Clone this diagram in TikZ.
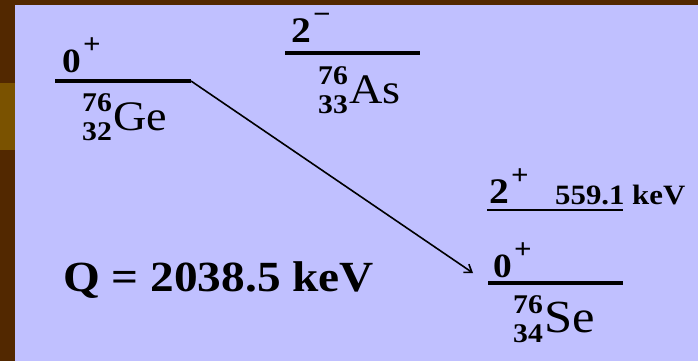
\documentclass[tikz,border=0pt]{standalone}
\usepackage{fontspec}
\setmainfont{Liberation Serif}
\usetikzlibrary{arrows.meta,positioning}

\definecolor{panel}{RGB}{192,192,255}
\definecolor{frame}{RGB}{82,40,0}
\definecolor{band}{RGB}{122,82,0}

\newcommand{\nucfont}{\fontsize{27}{29}\selectfont\bfseries}
\newcommand{\nuc}[3]{\rlap{\raisebox{19pt}{\nucfont #1}}\raisebox{-10pt}{\nucfont #2}\hspace{1pt}#3}
\newcommand{\pty}[1]{\hspace{2pt}\raisebox{19pt}{\fontsize{28}{28}\selectfont #1}}

\begin{document}
\begin{tikzpicture}[x=1pt, y=-1pt, >=Stealth,
  lvl/.style={line width=3.5pt},
  txt/.style={inner sep=0pt, anchor=base west, xscale=1.1, transform shape},
  spin/.style={txt, font=\fontsize{36}{38}\selectfont\bfseries},
  nucl/.style={txt, font=\fontsize{42}{44}\selectfont},
  decay/.style={-{Straight Barb[length=7pt,width=10pt]}, line width=1.6pt}]
  % slide background
  \fill[frame] (0,0) rectangle (698,361);
  \fill[band] (0,83) rectangle (15,150);
  \fill[panel] (15,5) rectangle (698,361);

  % levels
  \coordinate (geL) at (55,81);   \coordinate (geR) at (191,81);
  \coordinate (asL) at (285,53);  \coordinate (asR) at (420,53);
  \coordinate (se2L) at (487,210); \coordinate (se2R) at (623,210);
  \coordinate (se0L) at (488,283); \coordinate (se0R) at (623,283);
  \draw[lvl] (geL) -- (geR);
  \draw[lvl] (asL) -- (asR);
  \draw[lvl, line width=2pt] (se2L) -- (se2R);
  \draw[lvl] (se0L) -- (se0R);

  \node[spin, font=\fontsize{34}{36}\selectfont\bfseries] (geSpin) at (62,73) {0\pty{+}};
  \node[nucl] (ge) at (82,130) {\nuc{76}{32}{Ge}};
  \node[spin] (asSpin) at (291,43) {2\pty{−}};
  \node[nucl] (as) at (318,103) {\nuc{76}{33}{As}};
  \node[spin] (se2Spin) at (489,203) {2\pty{+}};
  \node[txt, font=\fontsize{28}{30}\selectfont\bfseries] (se2E) at (555,204) {559.1 keV};
  \node[spin, font=\fontsize{34}{36}\selectfont\bfseries] (se0Spin) at (493,277) {0\pty{+}};
  \node[nucl, font=\fontsize{46}{48}\selectfont] (se) at (513,332) {\nuc{76}{34}{Se}};

  \node[txt, font=\fontsize{43}{45}\selectfont\bfseries] (qval) at (63,291) {Q = 2038.5 keV};

  % double beta decay
  \coordinate (seIn) at (473,273);
  \draw[decay] (geR) -- (seIn);
\end{tikzpicture}
\end{document}
